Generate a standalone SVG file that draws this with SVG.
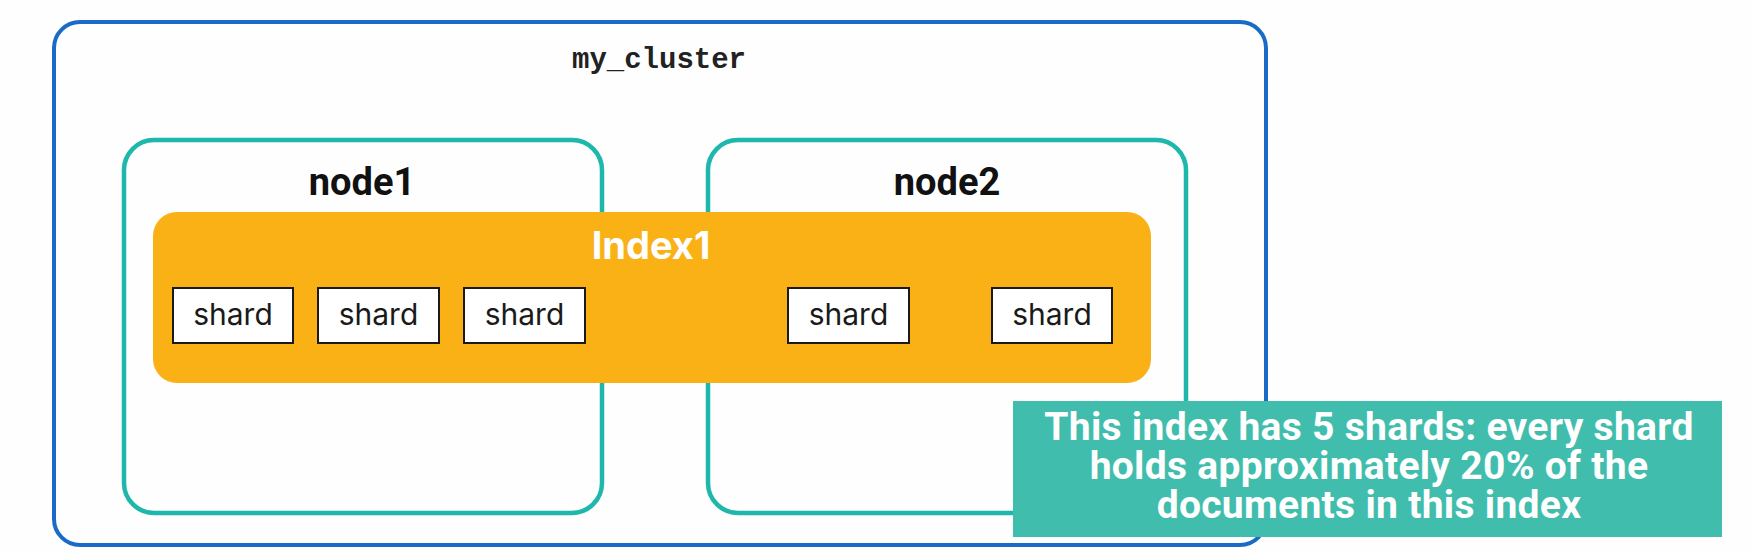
<svg xmlns="http://www.w3.org/2000/svg" width="1751" height="554" viewBox="0 0 1751 554">
<style>
.node{fill:none;stroke:#1db8ab;stroke-width:4.5}
.nlabel{font-family:Roboto,"Liberation Sans",sans-serif;font-weight:700;font-size:38px;fill:#111;text-anchor:middle}
.shard rect{fill:#fff;stroke:#1a1a1a;stroke-width:2}
.shard text{font-family:Inter,"Liberation Sans",sans-serif;font-size:30px;fill:#1a1a1a;text-anchor:middle}
.callout{font-family:Roboto,"Liberation Sans",sans-serif;font-weight:700;font-size:39px;fill:#fff;text-anchor:middle;letter-spacing:0.3px}
</style>
<rect width="1751" height="554" fill="#fefefe"/>
<g id="cluster">
<rect x="54" y="22" width="1212" height="523" rx="26" fill="none" stroke="#1a6bc8" stroke-width="4"/>
<text x="659" y="68" font-family="'Liberation Mono','Courier New',monospace" font-weight="700" font-size="29" fill="#222" text-anchor="middle">my_cluster</text>
</g>
<g id="node1">
<rect class="node" x="124" y="140" width="478" height="373" rx="30"/>
<text class="nlabel" x="362" y="195">node1</text>
</g>
<g id="node2">
<rect class="node" x="708" y="140" width="478" height="373" rx="30"/>
<text class="nlabel" x="947" y="195">node2</text>
</g>
<g id="index1">
<rect x="153" y="212" width="998" height="171" rx="24" fill="#f9b116"/>
<text x="651" y="259" font-family="Inter,'Liberation Sans',sans-serif" font-weight="700" font-size="38" fill="#fff" text-anchor="middle">Index1</text>
</g>
<g id="shard1" class="shard"><rect x="173" y="288" width="120" height="55"/><text x="233" y="325">shard</text></g>
<g id="shard2" class="shard"><rect x="318" y="288" width="121" height="55"/><text x="378.5" y="325">shard</text></g>
<g id="shard3" class="shard"><rect x="464" y="288" width="121" height="55"/><text x="524.5" y="325">shard</text></g>
<g id="shard4" class="shard"><rect x="788" y="288" width="121" height="55"/><text x="848.5" y="325">shard</text></g>
<g id="shard5" class="shard"><rect x="992" y="288" width="120" height="55"/><text x="1052" y="325">shard</text></g>
<g id="note">
<rect x="1013" y="401" width="709" height="136" fill="#41bdad"/>
<text class="callout"><tspan x="1369" y="440">This index has 5 shards: every shard</tspan><tspan x="1369" y="479">holds approximately 20% of the</tspan><tspan x="1369" y="518">documents in this index</tspan></text>
</g>
<g id="connectors"></g>
</svg>
